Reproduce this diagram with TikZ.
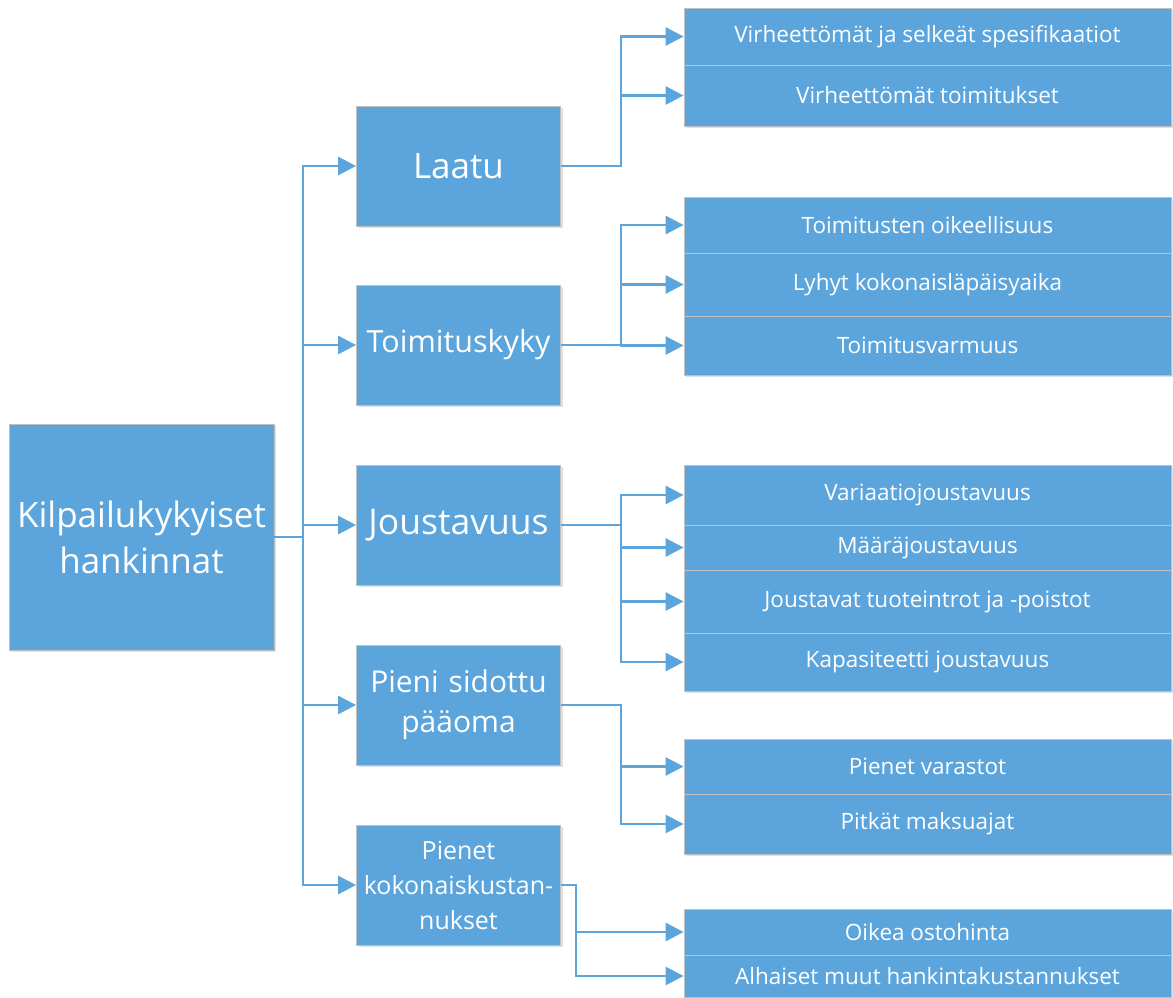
\documentclass[tikz,border=0pt]{standalone}
\usepackage{fontspec}
\setmainfont{Open Sans}
\usetikzlibrary{arrows.meta,shadows}
\definecolor{boxblue}{RGB}{91,165,220}
\definecolor{edgegray}{RGB}{192,192,192}

\begin{document}
\begin{tikzpicture}[x=1pt,y=-1pt]
    \tikzstyle{every node}=[draw=edgegray,line width=0.8pt,fill=boxblue,text=white,align=center,inner sep=2pt,
      drop shadow={shadow xshift=2pt,shadow yshift=-2pt,opacity=0.12,fill=black}];
    \tikzstyle{root}=[minimum width=265pt,minimum height=226pt,font=\fontsize{35}{46}\selectfont];
    \tikzstyle{mid}=[minimum width=203pt,minimum height=120pt,text width=200pt];
    \tikzstyle{leaf}=[minimum width=487pt,font=\fontsize{22.5}{27}\selectfont];
    \tikzstyle{conn}=[draw=boxblue,line width=2.8pt,-{Triangle[length=18pt,width=18pt]}];
    \useasboundingbox (0,0) rectangle (1173,998);

    % root and main branches
    \node at (141.5,537) (root) [root] {Kilpailukykyiset\\hankinnat};
    \node at (458.5,166) (laatu) [mid,font=\fontsize{35}{40}\selectfont] {Laatu};
    \node at (458.5,345) (toim) [mid,font=\fontsize{30.5}{36}\selectfont] {Toimituskyky};
    \node at (458.5,525) (joust) [mid,font=\fontsize{35.5}{40}\selectfont] {Joustavuus};
    \node at (458.5,705) (paaoma) [mid,font=\fontsize{30}{40}\selectfont] {Pieni sidottu\\pääoma};
    \node at (458.5,885) (kust) [mid,font=\fontsize{25}{35}\selectfont] {Pienet\\kokonaiskustan-\\nukset};

    % leaves
    \node at (927.5,36.5)  (l11) [leaf,minimum height=57pt] {Virheettömät ja selkeät spesifikaatiot};
    \node at (927.5,95.5)  (l12) [leaf,minimum height=61pt] {Virheettömät toimitukset};
    \node at (927.5,225)   (l21) [leaf,minimum height=56pt] {Toimitusten oikeellisuus};
    \node at (927.5,284.5) (l22) [leaf,minimum height=63pt] {Lyhyt kokonaisläpäisyaika};
    \node at (927.5,345.5) (l23) [leaf,minimum height=59pt] {Toimitusvarmuus};
    \node at (927.5,495)   (l31) [leaf,minimum height=60pt] {Variaatiojoustavuus};
    \node at (927.5,547.5) (l32) [leaf,minimum height=45pt] {Määräjoustavuus};
    \node at (927.5,601.5) (l33) [leaf,minimum height=63pt] {Joustavat tuoteintrot ja -poistot};
    \node at (927.5,662)   (l34) [leaf,minimum height=58pt] {Kapasiteetti joustavuus};
    \node at (927.5,766.5) (l41) [leaf,minimum height=55pt] {Pienet varastot};
    \node at (927.5,824)   (l42) [leaf,minimum height=60pt] {Pitkät maksuajat};
    \node at (927.5,932)   (l51) [leaf,minimum height=46pt] {Oikea ostohinta};
    \node at (927.5,976)   (l52) [leaf,minimum height=42pt] {Alhaiset muut hankintakustannukset};

    \coordinate (trunk) at (303,537);
    \draw[conn] (root.east) -- (trunk) |- (laatu.west);
    \draw[conn] (trunk) |- (toim.west);
    \draw[conn] (trunk) |- (joust.west);
    \draw[conn] (trunk) |- (paaoma.west);
    \draw[conn] (trunk) |- (kust.west);

    \draw[conn] (laatu.east) -- ++(60,0) |- (l11.west);
    \draw[conn] (laatu.east) -- ++(60,0) |- (l12.west);
    \draw[conn] (toim.east) -- ++(60,0) |- (l21.west);
    \draw[conn] (toim.east) -- ++(60,0) |- (l22.west);
    \draw[conn] (toim.east) -- ++(60,0) |- (l23.west);
    \draw[conn] (joust.east) -- ++(60,0) |- (l31.west);
    \draw[conn] (joust.east) -- ++(60,0) |- (l32.west);
    \draw[conn] (joust.east) -- ++(60,0) |- (l33.west);
    \draw[conn] (joust.east) -- ++(60,0) |- (l34.west);
    \draw[conn] (paaoma.east) -- ++(60,0) |- (l41.west);
    \draw[conn] (paaoma.east) -- ++(60,0) |- (l42.west);
    \draw[conn] (kust.east) -- ++(15,0) |- (l51.west);
    \draw[conn] (kust.east) -- ++(15,0) |- (l52.west);
\end{tikzpicture}
\end{document}
